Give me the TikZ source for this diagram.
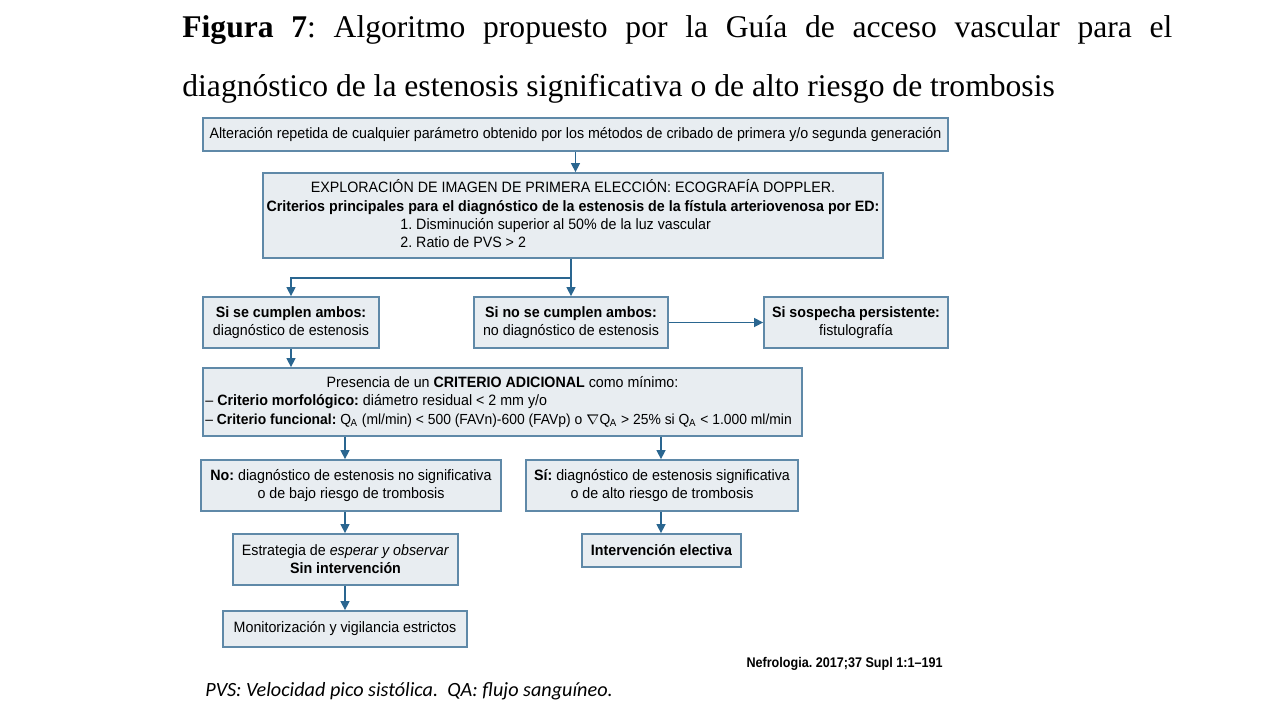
\documentclass[tikz,border=0pt]{standalone}
\usepackage{fontspec}
\setmainfont{Liberation Serif}
\newfontfamily\bxfont[FakeStretch=0.95]{Liberation Sans}
\newfontfamily\calfont{Carlito}
\newfontfamily\nefrofont[FakeStretch=0.9]{Liberation Sans}
\usetikzlibrary{arrows.meta}
\definecolor{boxfill}{HTML}{E8EDF1}
\definecolor{boxline}{HTML}{5F89A8}
\definecolor{arr}{HTML}{2A6690}
\tikzset{
  fbox/.style={draw=boxline, fill=boxfill, line width=0.9pt, inner sep=0pt,
    font=\bxfont\fontsize{7.5}{9}\selectfont, align=center},
  txt/.style={inner sep=0pt, font=\bxfont\fontsize{7.5}{9}\selectfont},
  conn/.style={draw=arr, line width=0.7pt, -{Triangle[length=4.5pt,width=4.5pt]}},
  plain/.style={draw=arr, line width=0.7pt},
}
\newcommand{\QA}{Q\kern-0.2pt\textsubscript{A}}
\frenchspacing
\begin{document}
\begin{tikzpicture}[x=0.5pt,y=-0.5pt]
\useasboundingbox[fill=white] (0,0) rectangle (1280,720);
% title
\node[inner sep=0pt, anchor=base west, font=\fontsize{15.8}{18}\selectfont] (t1) at (182,37)
  {\makebox[495pt][s]{\textbf{Figura 7}: Algoritmo propuesto por la Guía de acceso vascular para el}};
\node[inner sep=0pt, anchor=base west, font=\fontsize{15.8}{18}\selectfont] (t2) at (182,96)
  {diagnóstico de la estenosis significativa o de alto riesgo de trombosis};
% boxes
\node[fbox, minimum width=372.5pt, minimum height=16.5pt] (top) at (575.5,134.5)
  {Alteración repetida de cualquier parámetro obtenido por los métodos de cribado de primera y/o segunda generación};
\node[fbox, minimum width=310pt, minimum height=42.5pt] (expl) at (573,215.5) {};
\node[txt, anchor=base] (e1) at (573,192) {EXPLORACIÓN DE IMAGEN DE PRIMERA ELECCIÓN: ECOGRAFÍA DOPPLER.};
\node[txt, anchor=base] (e2) at (573,211) {\bfseries Criterios principales para el diagnóstico de la estenosis de la fístula arteriovenosa por ED:};
\node[txt, anchor=base west] (e3) at (400,229) {1. Disminución superior al 50\% de la luz vascular};
\node[txt, anchor=base west] (e4) at (400,247) {2. Ratio de PVS > 2};
\node[fbox, minimum width=88pt, minimum height=25.5pt] (sise) at (291,322.5)
  {\textbf{Si se cumplen ambos:}\\diagnóstico de estenosis};
\node[fbox, minimum width=97pt, minimum height=25.5pt] (sino) at (571,322.5)
  {\textbf{Si no se cumplen ambos:}\\no diagnóstico de estenosis};
\node[fbox, minimum width=92pt, minimum height=25.5pt] (sosp) at (856,322.5)
  {\textbf{Si sospecha persistente:}\\fistulografía};
\node[fbox, minimum width=299.5pt, minimum height=34pt] (pres) at (502.5,402) {};
\node[txt, anchor=base] (p1) at (502.5,387) {Presencia de un \textbf{CRITERIO ADICIONAL} como mínimo:};
\node[txt, anchor=base west] (p2) at (205,405) {– \textbf{Criterio morfológico:} diámetro residual < 2 mm y/o};
\node[txt, anchor=base west, font=\bxfont\fontsize{7.3}{9}\selectfont] (p3) at (205,424) {– \textbf{Criterio funcional:} \QA\ (ml/min) < 500 (FAVn)-600 (FAVp) o $\nabla$\QA\ > 25\% si \QA\ < 1.000 ml/min};
\node[fbox, minimum width=150pt, minimum height=25.5pt] (no) at (351,485.5)
  {\textbf{No:} diagnóstico de estenosis no significativa\\o de bajo riesgo de trombosis};
\node[fbox, minimum width=136pt, minimum height=25.5pt] (si) at (662,485.5)
  {\textbf{Sí:} diagnóstico de estenosis significativa\\o de alto riesgo de trombosis};
\node[fbox, minimum width=112.5pt, minimum height=25.5pt] (estr) at (345.5,559.5)
  {Estrategia de \textit{esperar y observar}\\\textbf{Sin intervención}};
\node[fbox, minimum width=79.5pt, minimum height=16.5pt] (interv) at (661.5,550.5)
  {\textbf{Intervención electiva}};
\node[fbox, minimum width=122pt, minimum height=18pt] (monit) at (345,629)
  {Monitorización y vigilancia estrictos};
% footer texts
\node[inner sep=0pt, anchor=base east, font=\nefrofont\bfseries\fontsize{7}{8}\selectfont] (ref) at (943,667)
  {Nefrologia. 2017;37 Supl 1:1–191};
\node[inner sep=0pt, anchor=base west, font=\calfont\itshape\fontsize{10.1}{12}\selectfont] (foot) at (205,696)
  {PVS: Velocidad pico sistólica.\ \ QA: flujo sanguíneo.};
% connectors
\coordinate (split) at (571,278);
\coordinate (lx) at (345,0);
\coordinate (rx) at (661,0);
\draw[conn] (top.south) -- (top.south |- expl.north);
\draw[plain] (split |- expl.south) -- (split);
\draw[conn] (split) -| (sise.north);
\draw[conn] (split) -- (split |- sino.north);
\draw[conn] (sino.east) -- (sosp.west);
\draw[conn] (sise.south) -- (sise.south |- pres.north);
\draw[conn] (pres.south -| lx) -- (no.north -| lx);
\draw[conn] (pres.south -| rx) -- (si.north -| rx);
\draw[conn] (no.south -| lx) -- (estr.north -| lx);
\draw[conn] (estr.south -| lx) -- (monit.north -| lx);
\draw[conn] (si.south -| rx) -- (interv.north -| rx);
\end{tikzpicture}
\end{document}
